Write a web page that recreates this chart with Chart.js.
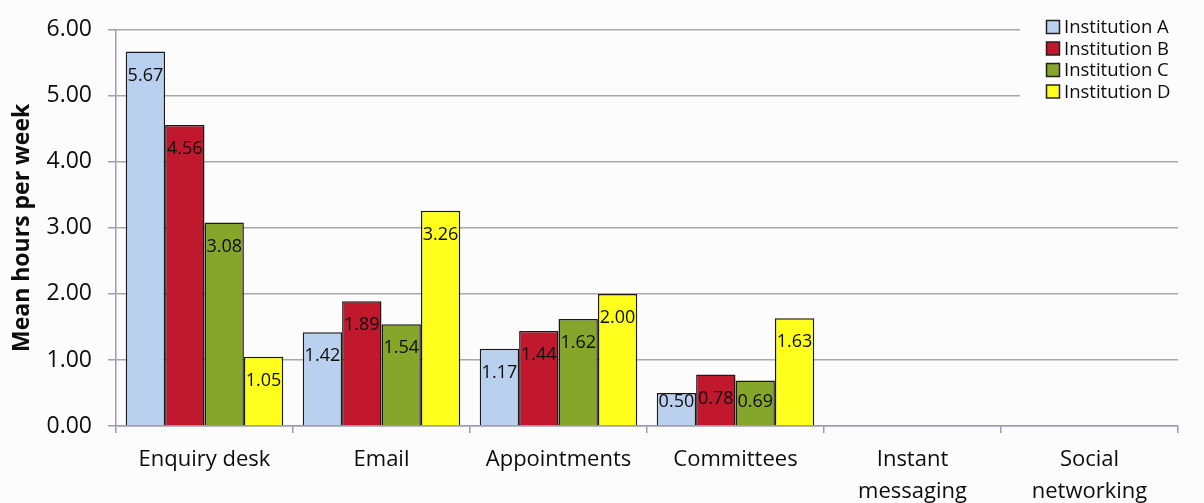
<!DOCTYPE html>
<html>
<head>
<meta charset="utf-8">
<script src="https://cdn.jsdelivr.net/npm/chart.js@4.4.1/dist/chart.umd.min.js"></script>
<style>
  html, body { margin: 0; padding: 0; background: #fcfcfc; }
  #wrap { width: 1204px; height: 503px; }
</style>
</head>
<body>
<div id="wrap"><canvas id="chart" width="1204" height="503"></canvas></div>
<script>
// Mean hours per week spent on each enquiry channel, per institution
const categories = ['Enquiry desk', 'Email', 'Appointments', 'Committees', ['Instant', 'messaging'], ['Social', 'networking']];
const seriesNames = ['Institution A', 'Institution B', 'Institution C', 'Institution D'];
const institutionA = [5.67, 1.42, 1.17, 0.50, null, null];
const institutionB = [4.56, 1.89, 1.44, 0.78, null, null];
const institutionC = [3.08, 1.54, 1.62, 0.69, null, null];
const institutionD = [1.05, 3.26, 2.00, 1.63, null, null];
const yTicks = [0, 1, 2, 3, 4, 5, 6];

const colors = ['#b9d0ee', '#c1182d', '#86a52b', '#ffff1e'];
const fontFamily = '"Open Sans", Lato, sans-serif';
const textColor = '#0d0d0d';
const axisColor = '#9c9bb0';
const gridColor = '#a8a8a8';

// value labels sit just inside the top of each bar
const barValues = {
  id: 'barValues',
  afterDatasetsDraw(chart) {
    const ctx = chart.ctx;
    ctx.save();
    ctx.font = '18px ' + fontFamily;
    ctx.fillStyle = textColor;
    ctx.textAlign = 'center';
    ctx.textBaseline = 'middle';
    chart.data.datasets.forEach((ds, i) => {
      chart.getDatasetMeta(i).data.forEach((bar, j) => {
        const v = ds.data[j];
        if (v == null) return;
        const y = Math.min(bar.y + 24, bar.base - 23);
        ctx.fillText(v.toFixed(2), bar.x, y);
      });
    });
    ctx.restore();
  }
};

// legend drawn on a plain panel over the top right of the plot
const sideLegend = {
  id: 'sideLegend',
  afterDraw(chart) {
    const ctx = chart.ctx;
    ctx.save();
    ctx.fillStyle = '#fcfcfc';
    ctx.fillRect(1020, 10, 184, 92);
    ctx.font = '18.5px ' + fontFamily;
    ctx.textBaseline = 'middle';
    chart.data.datasets.forEach((ds, i) => {
      const y = 27 + i * 21.5;
      ctx.fillStyle = ds.backgroundColor;
      ctx.fillRect(1046.5, y - 6.5, 13, 13);
      ctx.strokeStyle = '#222';
      ctx.lineWidth = 1.5;
      ctx.strokeRect(1046.5, y - 6.5, 13, 13);
      ctx.fillStyle = textColor;
      ctx.fillText(ds.label, 1064, y + 1);
    });
    ctx.restore();
  }
};

const bgFill = {
  id: 'bgFill',
  beforeDraw(chart) {
    const ctx = chart.ctx;
    ctx.save();
    ctx.fillStyle = '#fcfcfc';
    ctx.fillRect(0, 0, chart.width, chart.height);
    ctx.restore();
  }
};

const seriesData = [institutionA, institutionB, institutionC, institutionD];

new Chart(document.getElementById('chart'), {
  type: 'bar',
  data: {
    labels: categories,
    datasets: seriesData.map((d, i) => ({
      label: seriesNames[i],
      data: d,
      backgroundColor: colors[i],
      borderColor: '#1a1a1a',
      borderWidth: 1.5,
      categoryPercentage: 0.89,
      barPercentage: 1.0
    }))
  },
  options: {
    responsive: false,
    animation: false,
    layout: { padding: { top: 24, right: 26, left: 0, bottom: 0 } },
    plugins: {
      legend: { display: false },
      tooltip: { enabled: false }
    },
    scales: {
      x: {
        grid: { offset: true, drawOnChartArea: false, drawTicks: true, tickLength: 7, color: axisColor, lineWidth: 1.5 },
        border: { color: axisColor, width: 1.5 },
        ticks: { color: textColor, font: { family: fontFamily, size: 22, lineHeight: 32 / 22 }, padding: 11, maxRotation: 0, autoSkip: false },
        afterFit: s => { s.height = 77; }
      },
      y: {
        min: 0,
        max: 6,
        afterBuildTicks: s => { s.ticks = yTicks.map(v => ({ value: v })); },
        grid: { color: gridColor, lineWidth: 1.5, tickLength: 8, tickColor: axisColor },
        border: { color: axisColor, width: 1.5 },
        ticks: { color: textColor, font: { family: fontFamily, size: 23 }, padding: 16, callback: v => v.toFixed(2) },
        title: { display: true, text: 'Mean hours per week', color: textColor, font: { family: fontFamily, size: 23, weight: 'bold' }, padding: { top: 9, bottom: 0 } },
        afterFit: s => { s.width = 116; }
      }
    }
  },
  plugins: [bgFill, barValues, sideLegend]
});
</script>
</body>
</html>
